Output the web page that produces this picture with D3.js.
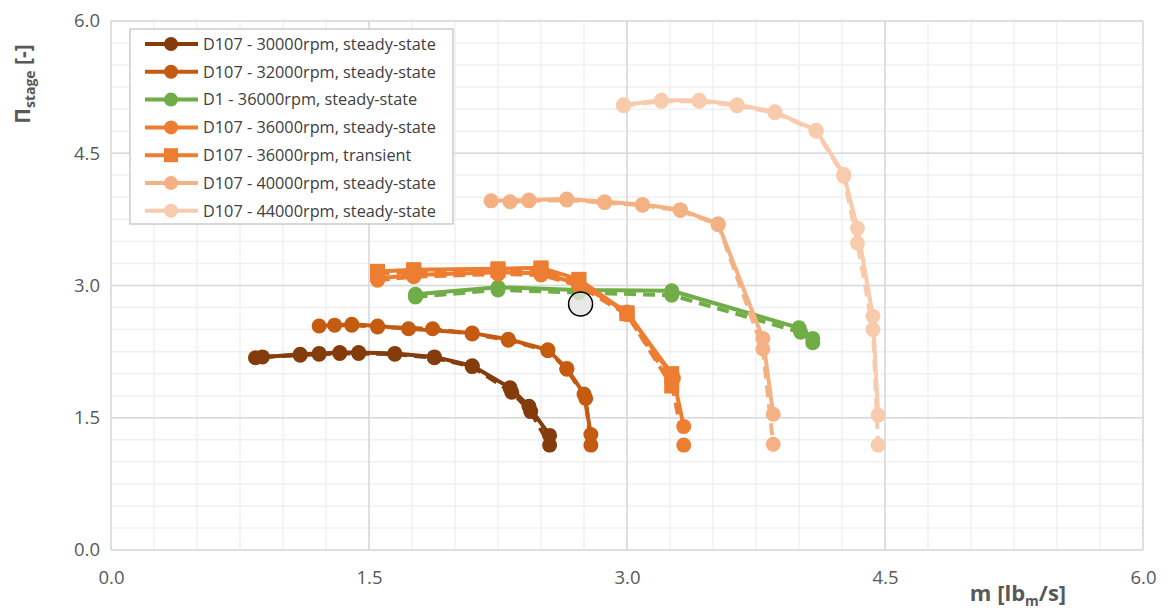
<!DOCTYPE html>
<html>
<head>
<meta charset="utf-8">
<script src="https://cdn.jsdelivr.net/npm/d3@7"></script>
<style>
  body { margin: 0; background: #fff; }
  text { font-family: "Open Sans", "Noto Sans", sans-serif; }
</style>
</head>
<body>
<svg id="chart"></svg>
<script>
// values: [mass flow lbm/s, stage pressure ratio]
// solid = measured, dashed = second run (no legend entry)
const d30Solid = [[0.84,2.18],[1.10,2.22],[1.21,2.23],[1.33,2.24],[1.44,2.24],[1.65,2.23],[1.88,2.19],[2.10,2.09],[2.32,1.84],[2.43,1.63],[2.55,1.30]];
const d30Dash  = [[0.88,2.19],[1.10,2.21],[1.21,2.22],[1.33,2.23],[1.44,2.23],[1.65,2.22],[1.88,2.18],[2.10,2.08],[2.33,1.79],[2.44,1.57],[2.55,1.19]];
const d32Solid = [[1.21,2.54],[1.40,2.56],[1.55,2.54],[1.73,2.51],[2.10,2.46],[2.31,2.39],[2.54,2.27],[2.65,2.06],[2.75,1.77],[2.79,1.31]];
const d32Dash  = [[1.30,2.55],[1.40,2.55],[1.55,2.53],[1.87,2.51],[2.10,2.45],[2.31,2.38],[2.54,2.26],[2.65,2.05],[2.76,1.72],[2.79,1.19]];
const d1Solid  = [[1.77,2.90],[2.25,2.98],[2.72,2.95],[3.26,2.94],[4.00,2.52],[4.08,2.40]];
const d1Dash   = [[1.77,2.87],[2.25,2.95],[2.72,2.92],[3.26,2.89],[4.01,2.47],[4.08,2.35]];
const d36Solid = [[1.55,3.08],[1.76,3.12],[2.25,3.15],[2.50,3.14],[2.72,3.02],[3.00,2.70],[3.27,1.95],[3.33,1.40]];
const d36Dash  = [[1.55,3.06],[1.76,3.10],[2.25,3.13],[2.50,3.12],[2.72,3.00],[3.00,2.67],[3.26,1.90],[3.33,1.19]];
const d36TrSolid = [[1.55,3.16],[1.76,3.18],[2.25,3.19],[2.50,3.20],[2.72,3.07],[3.00,2.69],[3.26,2.00]];
const d36TrDash  = [[1.55,3.13],[1.76,3.16],[2.25,3.17],[2.50,3.18],[2.72,3.05],[3.00,2.68],[3.26,1.86]];
const d40Solid = [[2.21,3.96],[2.43,3.97],[2.65,3.98],[2.87,3.95],[3.09,3.92],[3.31,3.86],[3.53,3.70],[3.79,2.40],[3.85,1.54]];
const d40Dash  = [[2.32,3.95],[2.43,3.96],[2.65,3.97],[2.87,3.94],[3.09,3.91],[3.31,3.85],[3.53,3.69],[3.79,2.28],[3.85,1.20]];
const d44Solid = [[2.98,5.05],[3.20,5.10],[3.42,5.10],[3.64,5.05],[3.86,4.97],[4.10,4.76],[4.26,4.26],[4.34,3.65],[4.43,2.65],[4.46,1.53]];
const d44Dash  = [[2.98,5.04],[3.20,5.09],[3.42,5.09],[3.64,5.04],[3.86,4.96],[4.10,4.75],[4.26,4.24],[4.34,3.48],[4.43,2.50],[4.46,1.19]];
const highlightPoint = [2.73, 2.79];

const legendLabels = [
  'D107 - 30000rpm, steady-state',
  'D107 - 32000rpm, steady-state',
  'D1 - 36000rpm, steady-state',
  'D107 - 36000rpm, steady-state',
  'D107 - 36000rpm, transient',
  'D107 - 40000rpm, steady-state',
  'D107 - 44000rpm, steady-state'
];
const seriesColors = ['#843C0C', '#C55A11', '#70AD47', '#ED7D31', '#ED7D31', '#F4B183', '#F8CBAD'];
const seriesMarkers = ['circle', 'circle', 'circle', 'circle', 'square', 'circle', 'circle'];
const solidSeries = [d30Solid, d32Solid, d1Solid, d36Solid, d36TrSolid, d40Solid, d44Solid];
const dashSeries = [d30Dash, d32Dash, d1Dash, d36Dash, d36TrDash, d40Dash, d44Dash];
const tickValues = [0, 1.5, 3.0, 4.5, 6.0];

var width = 1169, height = 615;
var svg = d3.select('#chart').attr('width', width).attr('height', height);

var x = d3.scaleLinear().domain([0, 6]).range([111, 1143]);
var y = d3.scaleLinear().domain([0, 6]).range([550, 21]);

// gridlines: minor every 0.25, major every 1.5
var minor = d3.range(0, 6.001, 0.25);
var grid = svg.append('g');
grid.selectAll('.vminor').data(minor).enter().append('line')
  .attr('x1', d => x(d)).attr('x2', d => x(d))
  .attr('y1', y(0)).attr('y2', y(6))
  .attr('stroke', '#f0f0f0').attr('stroke-width', 1.5);
grid.selectAll('.hminor').data(minor).enter().append('line')
  .attr('y1', d => y(d)).attr('y2', d => y(d))
  .attr('x1', x(0)).attr('x2', x(6))
  .attr('stroke', '#f0f0f0').attr('stroke-width', 1.5);
grid.selectAll('.vmajor').data(tickValues).enter().append('line')
  .attr('x1', d => x(d)).attr('x2', d => x(d))
  .attr('y1', y(0)).attr('y2', y(6))
  .attr('stroke', '#d9d9d9').attr('stroke-width', 1.5);
grid.selectAll('.hmajor').data(tickValues).enter().append('line')
  .attr('y1', d => y(d)).attr('y2', d => y(d))
  .attr('x1', x(0)).attr('x2', x(6))
  .attr('stroke', '#d9d9d9').attr('stroke-width', 1.5);

// axes (labels only, Excel style)
var xAxis = d3.axisBottom(x).tickValues(tickValues).tickFormat(d3.format('.1f')).tickSize(0).tickPadding(21);
var yAxis = d3.axisLeft(y).tickValues(tickValues).tickFormat(d3.format('.1f')).tickSize(0).tickPadding(11);
svg.append('g').attr('transform', 'translate(0,' + y(0) + ')').call(xAxis)
  .call(g => g.select('.domain').remove());
svg.append('g').attr('transform', 'translate(' + x(0) + ',0)').call(yAxis)
  .call(g => g.select('.domain').remove());
svg.selectAll('.tick text').attr('fill', '#595959').style('font-size', '18.5px')
  .style('font-family', '"Open Sans", sans-serif');

var line = d3.line().x(d => x(d[0])).y(d => y(d[1]));

function drawMarkers(g, pts, color, shape) {
  if (shape === 'square') {
    g.selectAll('rect').data(pts).enter().append('rect')
      .attr('x', d => x(d[0]) - 7.5).attr('y', d => y(d[1]) - 7.5)
      .attr('width', 15).attr('height', 15).attr('fill', color);
  } else {
    g.selectAll('circle').data(pts).enter().append('circle')
      .attr('cx', d => x(d[0])).attr('cy', d => y(d[1]))
      .attr('r', 7.5).attr('fill', color);
  }
}

solidSeries.forEach(function(pts, i) {
  var g = svg.append('g');
  g.append('path').attr('d', line(dashSeries[i]))
    .attr('fill', 'none').attr('stroke', seriesColors[i])
    .attr('stroke-width', 4).attr('stroke-dasharray', '12,7');
  drawMarkers(g.append('g'), dashSeries[i], seriesColors[i], seriesMarkers[i]);
  g.append('path').attr('d', line(pts))
    .attr('fill', 'none').attr('stroke', seriesColors[i])
    .attr('stroke-width', 4).attr('stroke-linejoin', 'round');
  drawMarkers(g.append('g'), pts, seriesColors[i], seriesMarkers[i]);
});

// highlighted point
svg.append('circle')
  .attr('cx', x(highlightPoint[0])).attr('cy', y(highlightPoint[1]))
  .attr('r', 12).attr('fill', '#e3e3e3').attr('fill-opacity', 0.8)
  .attr('stroke', '#000').attr('stroke-width', 1.5);

// legend
var legend = svg.append('g').attr('transform', 'translate(130,29)');
legend.append('rect').attr('width', 323).attr('height', 195)
  .attr('fill', '#fff').attr('stroke', '#bfbfbf').attr('stroke-width', 1.2);
var rows = legend.selectAll('.row').data(legendLabels).enter().append('g')
  .attr('transform', (d, i) => 'translate(0,' + (15 + i * 27.8) + ')');
rows.append('line').attr('x1', 15).attr('x2', 68)
  .attr('stroke', (d, i) => seriesColors[i]).attr('stroke-width', 4);
rows.each(function(d, i) {
  var r = d3.select(this);
  if (seriesMarkers[i] === 'square') {
    r.append('rect').attr('x', 34).attr('y', -7).attr('width', 14).attr('height', 14).attr('fill', seriesColors[i]);
  } else {
    r.append('circle').attr('cx', 41).attr('cy', 0).attr('r', 7).attr('fill', seriesColors[i]);
  }
});
rows.append('text').attr('x', 73).attr('y', 0).attr('dy', '0.35em')
  .attr('fill', '#404040').style('font-size', '16.3px').text(d => d);

// axis titles
var yTitle = svg.append('text').attr('transform', 'translate(30,84) rotate(-90)')
  .attr('text-anchor', 'middle').attr('fill', '#595959')
  .style('font-size', '21px').style('font-weight', 'bold');
yTitle.append('tspan').text('Π');
yTitle.append('tspan').attr('dy', 5).style('font-size', '14px').text('stage');
yTitle.append('tspan').attr('dy', -5).text(' [-]');

var xTitle = svg.append('text').attr('x', 1018).attr('y', 601)
  .attr('text-anchor', 'middle').attr('fill', '#595959')
  .style('font-size', '22px').style('font-weight', 'bold');
xTitle.append('tspan').text('m [lb');
xTitle.append('tspan').attr('dy', 5).style('font-size', '14px').text('m');
xTitle.append('tspan').attr('dy', -5).text('/s]');
</script>
</body>
</html>
